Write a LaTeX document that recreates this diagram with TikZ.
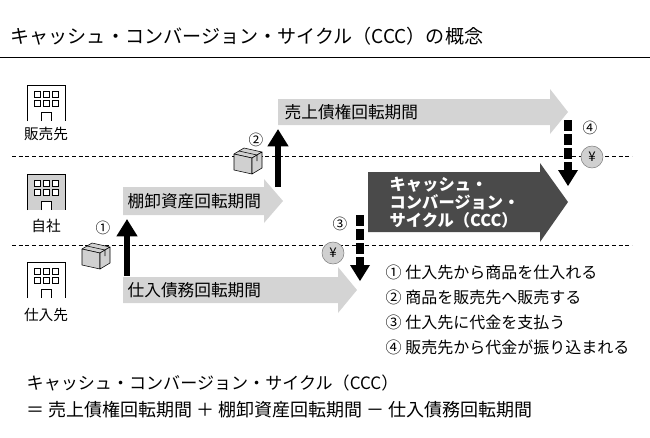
\documentclass[tikz,border=0pt]{standalone}
\usepackage{fontspec}
\setmainfont{Noto Sans CJK JP}
\usetikzlibrary{arrows.meta}
\definecolor{lgray}{HTML}{D4D4D4}
\definecolor{dgray}{HTML}{4A4A4A}
\definecolor{cgray}{HTML}{D0D0D0}
\newcommand{\building}[3]{% x, y (top left), fill
  \fill[#3] (#1,#2+36) -- (#1,#2) -- (#1+38,#2) -- (#1+38,#2+36) -- cycle;
  \draw[semithick] (#1,#2+36) -- (#1,#2) -- (#1+38,#2) -- (#1+38,#2+36);
  \foreach \r in {0,1} \foreach \c in {0,1,2}
    \draw[fill=white] (#1+7+\c*9,#2+6+\r*9) rectangle ++(6,6);
  \draw[fill=white] (#1+14,#2+36) -- (#1+14,#2+27) -- (#1+24,#2+27) -- (#1+24,#2+36);}
\newcommand{\pkgbox}[2]{% centre x, y
  \draw[fill=cgray,line join=round] (#1-14,#2-6) -- (#1-4,#2-12) -- (#1+14,#2-8) -- (#1+4,#2-2) -- cycle;
  \draw[fill=cgray,line join=round] (#1-14,#2-6) -- (#1+4,#2-2) -- (#1+4,#2+14) -- (#1-14,#2+10) -- cycle;
  \draw[fill=cgray,line join=round] (#1+4,#2-2) -- (#1+14,#2-8) -- (#1+14,#2+8) -- (#1+4,#2+14) -- cycle;
  \draw (#1-9,#2-9) -- (#1+9,#2-5) -- (#1+9,#2+1);}
\newcommand{\yencoin}[2]{%
  \draw[gray,fill=cgray] (#1,#2) circle (11);
  \node[font=\fontsize{10}{10}\selectfont] at (#1,#2) {¥};}
\newcommand{\dnarrow}[3]{% x, ytop, ytip
  \draw[line width=6.5pt,dash pattern=on 8pt off 2.5pt] (#1,#2) -- (#1,#3-14);
  \fill (#1-10,#3-16) -- (#1+10,#3-16) -- (#1,#3) -- cycle;}
\begin{document}
\begin{tikzpicture}[x=0.75pt,y=-0.75pt,
  lbl/.style={font=\fontsize{12.5}{14}\selectfont,anchor=west},
  leg/.style={font=\fontsize{12}{14}\selectfont,anchor=west},
  num/.style={font=\fontsize{11}{11}\selectfont},
  sep/.style={densely dashed,thin}]
\useasboundingbox (0,0) rectangle (650,437);
% title
\node[anchor=west,font=\fontsize{14.3}{15}\selectfont] (title) at (6,36) {キャッシュ・コンバージョン・サイクル（CCC）の概念};
\draw[thin] (0,57) -- (650,57);
% separators
\draw[sep] (12,156) -- (632,156);
\draw[sep] (12,245) -- (632,245);
% buildings
\building{27}{85}{white}
\building{27}{174}{cgray}
\building{27}{262}{white}
\node[font=\fontsize{11}{12}\selectfont] (buyer) at (46,134) {販売先};
\node[font=\fontsize{11}{12}\selectfont] (self) at (46,226) {自社};
\node[font=\fontsize{11}{12}\selectfont] (supplier) at (46,315) {仕入先};
% period arrows
\fill[lgray] (278,99) -- (550,99) -- (550,89) -- (568,112) -- (550,134) -- (550,125) -- (278,125) -- cycle;
\node[lbl] (receivable) at (280,112) {売上債権回転期間};
\fill[lgray] (123,187) -- (264,187) -- (264,179) -- (283,201) -- (264,223) -- (264,215) -- (123,215) -- cycle;
\node[lbl] (inventory) at (123,201) {棚卸資産回転期間};
\fill[lgray] (123,277) -- (338,277) -- (338,267) -- (357,290) -- (338,313) -- (338,303) -- (123,303) -- cycle;
\node[lbl] (payable) at (123,290) {仕入債務回転期間};
\fill[dgray] (368,172) -- (540,172) -- (540,163) -- (568,202) -- (540,242) -- (540,232) -- (368,232) -- cycle;
\node[anchor=west,text=white,font=\bfseries\fontsize{12.2}{13.5}\selectfont,align=left] (ccc) at (385,203) {キャッシュ・\\コンバージョン・\\サイクル（CCC）};
% goods flow
\draw[line width=5pt,-{Triangle[width=15pt,length=13pt]}] (127,276) -- (127,219);
\draw[line width=5pt,-{Triangle[width=15pt,length=13pt]}] (278,187) -- (278,129);
\pkgbox{96}{255}
\pkgbox{248}{160}
\node[num] (n1) at (103,228) {①};
\node[num] (n2) at (256,140) {②};
% cash flow
\dnarrow{360}{215}{281}
\dnarrow{568}{120}{186}
\yencoin{333}{253}
\yencoin{592}{157}
\node[num] (n3) at (340,224) {③};
\node[num] (n4) at (590,128) {④};
% legend
\node[leg] (l1) at (381,272) {① 仕入先から商品を仕入れる};
\node[leg] (l2) at (381,297) {② 商品を販売先へ販売する};
\node[leg] (l3) at (381,322) {③ 仕入先に代金を支払う};
\node[leg] (l4) at (381,347) {④ 販売先から代金が振り込まれる};
% formula
\node[anchor=west,font=\fontsize{12.8}{14}\selectfont] (f1) at (22,383) {キャッシュ・コンバージョン・サイクル（CCC）};
\node[anchor=west,font=\fontsize{13.5}{14}\selectfont] (f2) at (22,410) {＝ 売上債権回転期間 ＋ 棚卸資産回転期間 － 仕入債務回転期間};
\end{tikzpicture}
\end{document}
